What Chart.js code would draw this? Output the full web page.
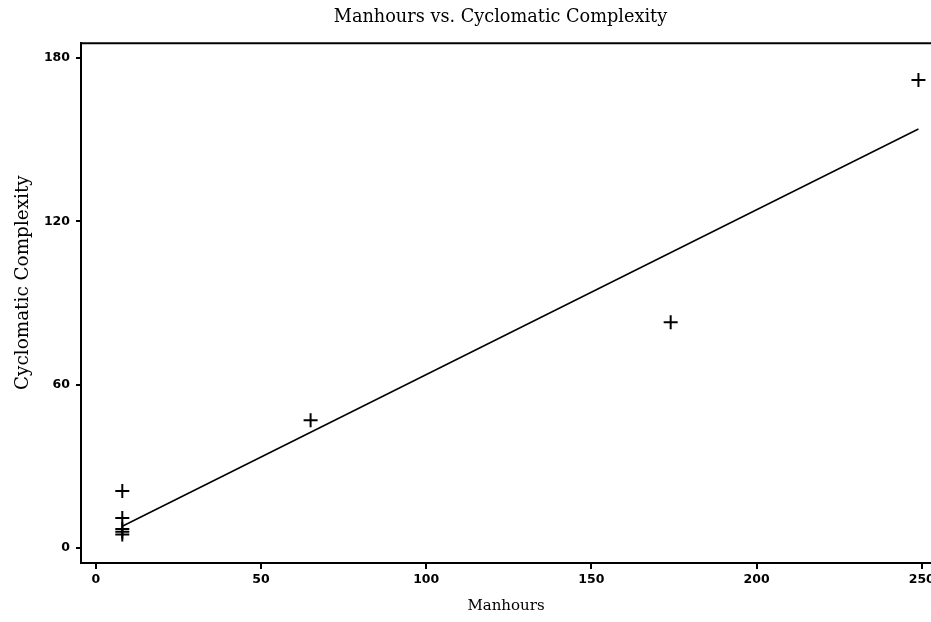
<!DOCTYPE html>
<html>
<head>
<meta charset="utf-8">
<script src="https://cdn.jsdelivr.net/npm/chart.js@4.4.1/dist/chart.umd.min.js"></script>
<style>
  html, body { margin: 0; padding: 0; background: #fff; }
  #wrap { width: 931px; height: 622px; }
</style>
</head>
<body>
<div id="wrap"><canvas id="chart"></canvas></div>
<script>
// observed points (manhours, cyclomatic complexity)
const manhours = [8, 8, 8, 8, 8, 65, 174, 249];
const complexity = [21, 11, 7, 6, 5, 47, 83, 172];
// fitted line end points
const fitX = [8, 249];
const fitY = [8, 154];
const xTicks = [0, 50, 100, 150, 200, 250];
const yTicks = [0, 60, 120, 180];

const serif = "'DejaVu Serif', 'Liberation Serif', serif";
const tickFont = { family: "'DejaVu Sans', sans-serif", size: 12.5, weight: 'bold' };

// top frame line + shift the title over the plot area like the original
const frame = {
  id: 'frame',
  afterLayout(chart) {
    if (chart.titleBlock) chart.titleBlock.left = 70;
  },
  afterDraw(chart) {
    const { ctx, chartArea } = chart;
    ctx.save();
    ctx.strokeStyle = '#000';
    ctx.lineWidth = 2;
    ctx.beginPath();
    ctx.moveTo(chartArea.left - 1, chartArea.top);
    ctx.lineTo(chartArea.right, chartArea.top);
    ctx.stroke();
    ctx.restore();
  }
};

new Chart(document.getElementById('chart'), {
  type: 'scatter',
  data: {
    datasets: [
      {
        label: 'Observed',
        data: manhours.map((x, i) => ({ x: x, y: complexity[i] })),
        pointStyle: 'cross',
        pointRadius: 7,
        pointHoverRadius: 7,
        borderColor: '#000',
        borderWidth: 2
      },
      {
        label: 'Fit',
        type: 'line',
        data: fitX.map((x, i) => ({ x: x, y: fitY[i] })),
        borderColor: '#000',
        borderWidth: 1.5,
        pointRadius: 0,
        fill: false
      }
    ]
  },
  plugins: [frame],
  options: {
    responsive: true,
    maintainAspectRatio: false,
    animation: false,
    layout: { padding: 0, autoPadding: false },
    plugins: {
      legend: { display: false },
      tooltip: { enabled: false },
      title: {
        display: true,
        text: 'Manhours vs. Cyclomatic Complexity',
        color: '#000',
        font: { family: serif, size: 17.7, weight: 'normal' },
        padding: { top: 7, bottom: 15 }
      }
    },
    scales: {
      x: {
        type: 'linear',
        min: -4.5,
        max: 252.8,
        afterBuildTicks: s => { s.ticks = xTicks.map(v => ({ value: v })); },
        afterFit: s => { s.height = 59; s.paddingLeft = 0; s.paddingRight = 0; },
        grid: { display: true, drawOnChartArea: false, color: '#000', lineWidth: 2, tickLength: 6 },
        border: { display: true, color: '#000', width: 2 },
        ticks: { color: '#000', font: tickFont, padding: 3, maxRotation: 0 },
        title: {
          display: true,
          text: 'Manhours',
          color: '#000',
          font: { family: serif, size: 15 },
          padding: { top: 0, bottom: 7 }
        }
      },
      y: {
        type: 'linear',
        min: -5.5,
        max: 185.5,
        afterBuildTicks: s => { s.ticks = yTicks.map(v => ({ value: v })); },
        afterFit: s => { s.width = 81; },
        grid: { display: true, drawOnChartArea: false, color: '#000', lineWidth: 2, tickLength: 5 },
        border: { display: true, color: '#000', width: 2 },
        ticks: { color: '#000', font: tickFont, padding: 6 },
        title: {
          display: true,
          text: '\u00a0\u00a0\u00a0\u00a0\u00a0\u00a0\u00a0Cyclomatic Complexity',
          color: '#000',
          font: { family: serif, size: 18.4 },
          padding: { top: 12, bottom: 0 }
        }
      }
    }
  }
});
</script>
</body>
</html>
